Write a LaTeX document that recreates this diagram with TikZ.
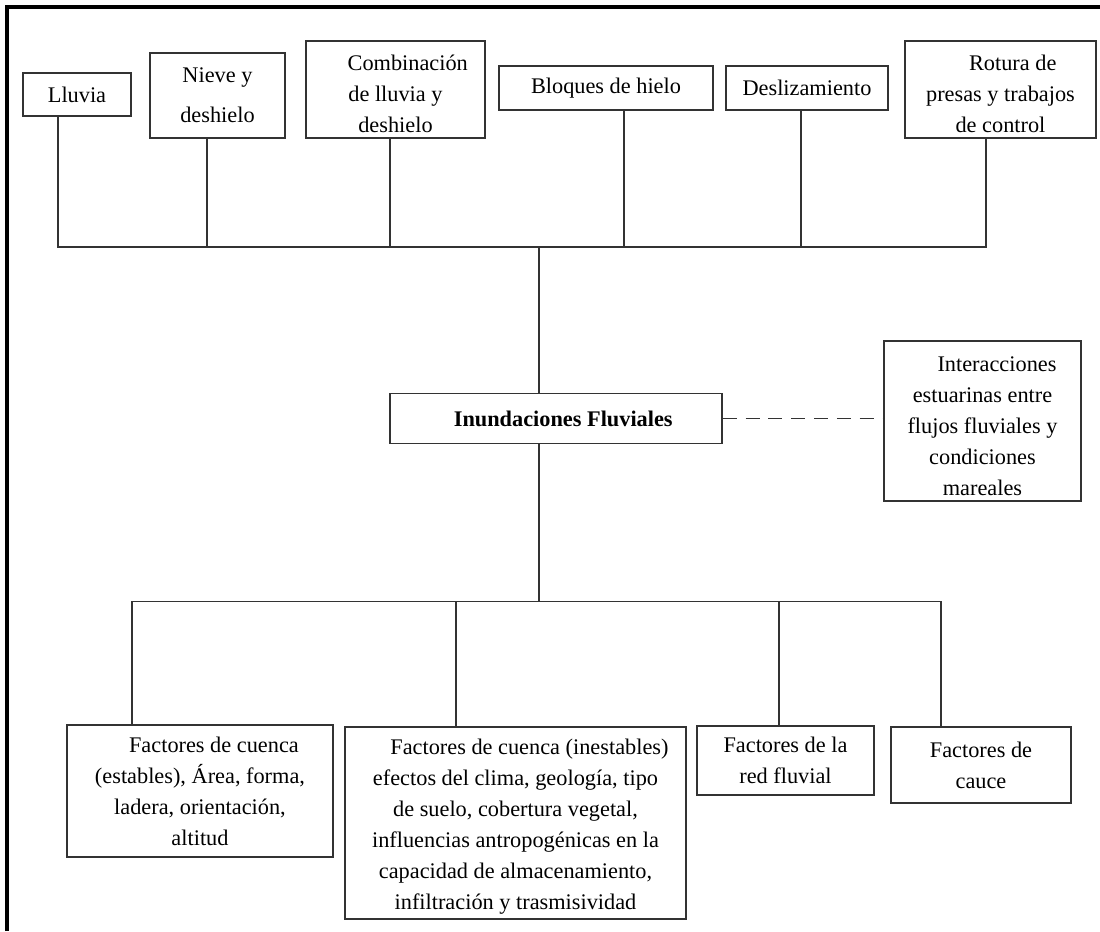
\documentclass[tikz,border=0pt]{standalone}
\usepackage{fontspec}
\setmainfont{Liberation Serif}
\usepackage{tikz}

\begin{document}
\begin{tikzpicture}[
		x=0.02cm, y=-0.02cm,
		cause box/.style={
			rectangle, draw=black!80, line width=0.8pt,
			align=center, inner sep=0pt,
			font=\fontsize{12.7}{17.6}\selectfont,
		},
		link/.style={draw=black!80, line width=0.8pt, line cap=rect},
	]
		\useasboundingbox (0,0) rectangle (1100,931);
		% page frame
		\draw[line width=2.3pt] (7,931) -- (7,7) -- (1100,7);

		% causes
		\node[cause box, minimum width=2.16cm, minimum height=0.86cm] (lluvia) at (77, 94.5) {Lluvia};
		\node[cause box, minimum width=2.70cm, minimum height=1.70cm] (nieve) at (217.5, 95.5) {Nieve y\\[5pt]deshielo};
		\node[cause box, minimum width=3.58cm, minimum height=1.94cm] (combinacion) at (395.5, 89.5) {
			\rule{0pt}{14pt}\hspace*{1.1em}Combinación\\de lluvia y\\deshielo
		};
		\node[cause box, minimum width=4.28cm, minimum height=0.88cm] (bloques) at (606, 88) {Bloques de hielo};
		\node[cause box, minimum width=3.24cm, minimum height=0.88cm] (deslizamiento) at (807, 88) {Deslizamiento};
		\node[cause box, minimum width=3.82cm, minimum height=1.94cm] (rotura) at (1000.5, 89.5) {
			\rule{0pt}{14pt}\hspace*{1.1em}Rotura de\\presas y trabajos\\de control
		};

		% main
		\node[cause box, minimum width=6.64cm, minimum height=1.00cm] (inundaciones) at (556, 418.5) {
			\hspace*{0.9em}\textbf{Inundaciones Fluviales}
		};
		\node[cause box, minimum width=3.94cm, minimum height=3.20cm] (interacciones) at (982.5, 421) {
			\rule{0pt}{14pt}\hspace*{1.3em}Interacciones\\estuarinas entre\\flujos fluviales y\\condiciones\\mareales
		};

		% factors
		\node[cause box, minimum width=5.32cm, minimum height=2.64cm] (cuencaest) at (200, 791) {
			\hspace*{1.25em}Factores de cuenca\\(estables), Área, forma,\\ladera, orientación,\\altitud
		};
		\node[cause box, minimum width=6.82cm, minimum height=3.84cm] (cuencainest) at (515.5, 823) {
			\rule{0pt}{13pt}\hspace*{1.25em}Factores de cuenca (inestables)\\efectos del clima, geología, tipo\\de suelo, cobertura vegetal,\\influencias antropogénicas en la\\capacidad de almacenamiento,\\infiltración y trasmisividad
		};
		\node[cause box, minimum width=3.54cm, minimum height=1.38cm] (redfluvial) at (785.5, 760.5) {Factores de la\\red fluvial};
		\node[cause box, minimum width=3.60cm, minimum height=1.52cm] (cauce) at (981, 765) {Factores de\\cauce};

		% upper tree
		\coordinate (top bus) at (539, 247);
		\foreach \name/\xx in {lluvia/58, nieve/207, combinacion/390, bloques/624, deslizamiento/801, rotura/986} {
			\coordinate (drop-\name) at (\xx, 247);
			\draw[link] (drop-\name) -- (drop-\name |- \name.south);
		}
		\draw[link] (drop-lluvia) -- (drop-rotura);
		\draw[link] (top bus) -- (top bus |- inundaciones.north);

		% lower tree
		\coordinate (bottom bus) at (539, 601.5);
		\foreach \name/\xx in {cuencaest/132, cuencainest/456, redfluvial/779, cauce/941} {
			\coordinate (drop-\name) at (\xx, 601.5);
			\draw[link] (drop-\name) -- (drop-\name |- \name.north);
		}
		\draw[link] (drop-cuencaest) -- (drop-cauce);
		\draw[link] (inundaciones.south -| bottom bus) -- (bottom bus);

		\draw[link, line cap=butt, dash pattern=on 8pt off 5pt] (inundaciones.east) -- (inundaciones.east -| interacciones.west);
	\end{tikzpicture}
\end{document}
